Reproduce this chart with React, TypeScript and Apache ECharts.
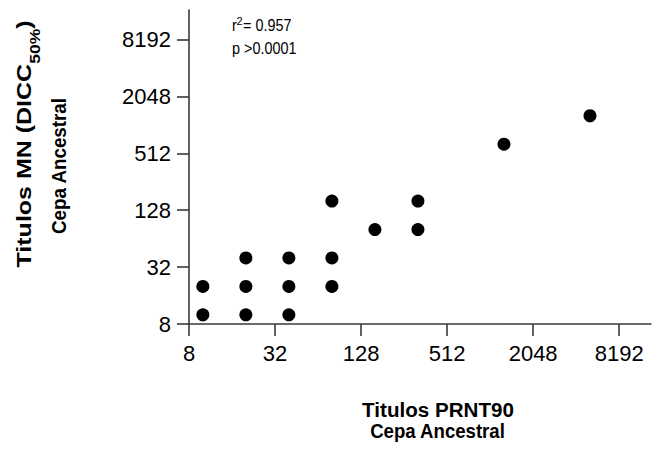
import React, { useEffect, useRef } from 'react';
import * as echarts from 'echarts';

// Tick labels shown on both log2 axes
const tickLabels = ['8', '32', '128', '512', '2048', '8192'];

// Titers (x: PRNT90, y: MN)
const prnt90Titers = [10, 10, 20, 20, 20, 40, 40, 40, 80, 80, 80, 160, 320, 320, 1280, 5120];
const mnTiters = [10, 20, 10, 20, 40, 10, 20, 40, 20, 40, 160, 80, 80, 160, 640, 1280];

const xTitleLines = ['Titulos PRNT90', 'Cepa Ancestral'];
const yTitleMain = 'Titulos MN (DICC';
const yTitleSub = '50%';
const yTitleLine2 = 'Cepa Ancestral';
const rSquared = '0.957';
const pText = 'p >0.0001';

const BASE = 8;
const toLog = (v: number) => Math.log2(v / BASE);
const FONT = '"Liberation Sans", Arial, Helvetica, sans-serif';

export default function App() {
  const ref = useRef<HTMLDivElement>(null);
  useEffect(() => {
    if (!ref.current) return;
    const chart = echarts.init(ref.current, null, { renderer: 'svg' });
    const tickPos = tickLabels.map((t) => toLog(Number(t)));
    const data = prnt90Titers.map((x, i) => [toLog(x), toLog(mnTiters[i])]);
    const axisCommon = {
      type: 'value' as const,
      min: 0,
      splitLine: { show: false },
      axisLine: { show: true, lineStyle: { color: '#3a3a3a', width: 1.6 } },
      axisTick: { show: true, length: 12, customValues: tickPos, lineStyle: { color: '#3a3a3a', width: 1.6 } },
      axisLabel: {
        customValues: tickPos,
        color: '#000',
        fontSize: 22,
        fontFamily: FONT,
        margin: 18,
        formatter: (v: number) => String(Math.round(BASE * Math.pow(2, v))),
      },
    };
    const bold = { fontSize: 20, fontWeight: 'bold' as const, fontFamily: FONT, fill: '#000' };
    const plain = { fontSize: 16, fontFamily: FONT, fill: '#000' };
    chart.setOption({
      animation: false,
      backgroundColor: '#fff',
      grid: { left: 189, right: 2, top: 10, bottom: 128, containLabel: false },
      xAxis: { ...axisCommon, max: 10.74 },
      yAxis: { ...axisCommon, max: 11.04 },
      series: [
        {
          type: 'scatter',
          data,
          symbol: 'circle',
          symbolSize: 13,
          itemStyle: { color: '#000', opacity: 1 },
        },
      ],
      graphic: [
        {
          type: 'text',
          x: 438,
          y: 410,
          scaleX: 1.03,
          style: { ...bold, text: xTitleLines[0], align: 'center', verticalAlign: 'middle' },
        },
        {
          type: 'text',
          x: 437.5,
          y: 431,
          scaleX: 0.93,
          style: { ...bold, text: xTitleLines[1], align: 'center', verticalAlign: 'middle' },
        },
        {
          type: 'text',
          x: 28,
          y: 144,
          rotation: Math.PI / 2,
          scaleX: 1.25,
          style: {
            text: `{b|${yTitleMain}}{s|${yTitleSub}}{b|)}`,
            align: 'center',
            verticalAlign: 'middle',
            rich: {
              b: { fontSize: 20, fontWeight: 'bold', fontFamily: FONT, fill: '#000', verticalAlign: 'top', lineHeight: 28 },
              s: { fontSize: 14, fontWeight: 'bold', fontFamily: FONT, fill: '#000', verticalAlign: 'bottom', lineHeight: 28 },
            },
          },
        },
        {
          type: 'text',
          x: 59,
          y: 166,
          rotation: Math.PI / 2,
          scaleX: 0.94,
          style: { ...bold, text: yTitleLine2, align: 'center', verticalAlign: 'middle' },
        },
        {
          type: 'text',
          x: 232,
          y: 25,
          scaleX: 0.9,
          style: { ...plain, text: 'r', align: 'left', verticalAlign: 'middle' },
        },
        {
          type: 'text',
          x: 236.5,
          y: 21,
          style: { fontSize: 11, fontFamily: FONT, fill: '#000', text: '2', align: 'left', verticalAlign: 'middle' },
        },
        {
          type: 'text',
          x: 243,
          y: 25,
          scaleX: 0.9,
          style: { ...plain, text: `= ${rSquared}`, align: 'left', verticalAlign: 'middle' },
        },
        {
          type: 'text',
          x: 232,
          y: 48,
          scaleX: 0.9,
          style: { ...plain, text: pText, align: 'left', verticalAlign: 'middle' },
        },
      ],
    });
    return () => chart.dispose();
  }, []);
  return <div ref={ref} style={{ position: 'absolute', left: 0, top: 0, width: 653, height: 452 }} />;
}
